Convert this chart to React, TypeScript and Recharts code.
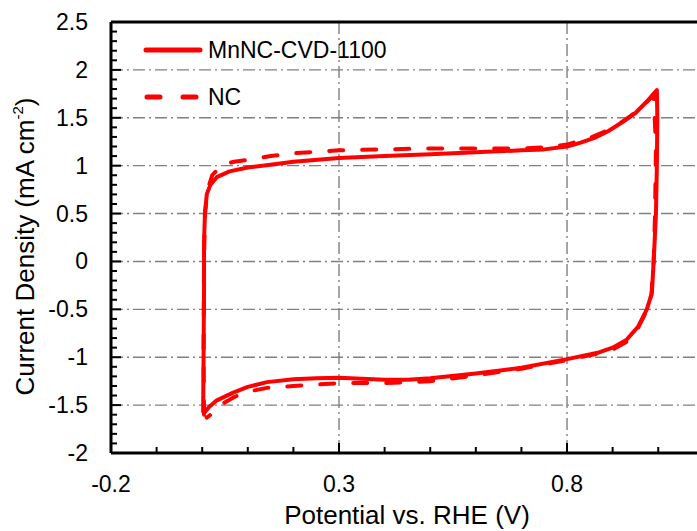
import { LineChart, Line, XAxis, YAxis, CartesianGrid, ReferenceLine, Legend } from 'recharts'

// MnNC-CVD-1100 cyclic voltammogram (solid), anodic then cathodic sweep
const mnncPotential = [
  0.002, 0.003, 0.004, 0.004, 0.006, 0.01, 0.018, 0.032, 0.06, 0.1, 0.15, 0.2, 0.3, 0.4, 0.5, 0.6, 0.7,
  0.75, 0.8, 0.83, 0.86, 0.89, 0.92, 0.95, 0.975, 0.997,
  0.998, 0.997, 0.995, 0.99, 0.986, 0.975, 0.956, 0.93, 0.9, 0.87, 0.8, 0.7, 0.6, 0.5, 0.45, 0.4,
  0.3, 0.25, 0.2, 0.142, 0.1, 0.068, 0.032, 0.015, 0.003,
]
const mnncCurrent = [
  -1.58, -1.0, -0.3, 0.2, 0.5, 0.7, 0.8, 0.88, 0.94, 0.98, 1.01, 1.04, 1.08, 1.1, 1.12, 1.14, 1.16,
  1.17, 1.2, 1.24, 1.29, 1.36, 1.45, 1.55, 1.67, 1.79,
  1.5, 1.0, 0.5, 0.0, -0.33, -0.5, -0.68, -0.82, -0.9, -0.95, -1.02, -1.11, -1.17, -1.22, -1.235, -1.235,
  -1.215, -1.22, -1.23, -1.26, -1.31, -1.37, -1.45, -1.52, -1.59,
]

// NC cyclic voltammogram (dashed)
const ncPotential = [
  0.004, 0.003, 0.004, 0.006, 0.012, 0.022, 0.043, 0.07, 0.1, 0.15, 0.2, 0.3, 0.4, 0.5, 0.6, 0.7,
  0.75, 0.8, 0.85, 0.9, 0.94, 0.97, 0.99,
  0.995, 0.993, 0.99, 0.985, 0.974, 0.955, 0.93, 0.9, 0.87, 0.8, 0.7, 0.6, 0.5, 0.4, 0.3, 0.2,
  0.142, 0.1, 0.068, 0.04, 0.024, 0.01,
]
const ncCurrent = [
  -1.6, -1.0, 0.0, 0.5, 0.75, 0.9, 1.01, 1.04, 1.06, 1.1, 1.13, 1.16, 1.17, 1.18, 1.18, 1.18,
  1.19, 1.22, 1.29, 1.39, 1.52, 1.64, 1.74,
  1.2, 0.5, 0.0, -0.35, -0.52, -0.7, -0.84, -0.92, -0.96, -1.03, -1.12, -1.19, -1.25, -1.27, -1.27, -1.3,
  -1.32, -1.36, -1.42, -1.5, -1.58, -1.63,
]

const seriesNames = ['MnNC-CVD-1100', 'NC']
const xTickLabels = [-0.2, 0.3, 0.8]
const yTickLabels = [-2, -1.5, -1, -0.5, 0, 0.5, 1, 1.5, 2, 2.5]
const xGridValues = [0.3, 0.8]
const yGridValues = [-1.5, -1, -0.5, 0, 0.5, 1, 1.5, 2]

// minor ticks every 0.1
const xTicks = Array.from({ length: 13 }, (_, i) => Math.round((-0.2 + i * 0.1) * 10) / 10)
const yTicks = Array.from({ length: 46 }, (_, i) => Math.round((-2 + i * 0.1) * 10) / 10)

const mnncData = mnncPotential.map((x, i) => ({ x, y: mnncCurrent[i] }))
const ncData = ncPotential.map((x, i) => ({ x, y: ncCurrent[i] }))

const RED = '#ff0000'
const FONT = '"Liberation Sans", Arial, sans-serif'

const isMajor = (list: number[], v: number) => list.some(m => Math.abs(m - v) < 1e-6)

const XTick = (props: any) => {
  const { x, y, payload } = props
  const major = isMajor(xTickLabels, payload.value)
  return (
    <g>
      <line x1={x} x2={x} y1={y} y2={y - (major ? 10 : 6)} stroke="#000" strokeWidth={2} />
      {major && (
        <text x={x} y={y + 39} textAnchor="middle" fontSize={23} fill="#000" fontFamily={FONT}>
          {payload.value}
        </text>
      )}
    </g>
  )
}

const YTick = (props: any) => {
  const { x, y, payload } = props
  const major = isMajor(yTickLabels, payload.value)
  return (
    <g>
      <line x1={x} x2={x + (major ? 10 : 6)} y1={y} y2={y} stroke="#000" strokeWidth={2} />
      {major && (
        <text x={x - 23} y={y + 8} textAnchor="end" fontSize={23} fill="#000" fontFamily={FONT}>
          {payload.value}
        </text>
      )}
    </g>
  )
}

const XTitle = (props: any) => {
  const { viewBox } = props
  return (
    <text x={viewBox.x + viewBox.width / 2 + 3} y={viewBox.y + 71} textAnchor="middle" fontSize={26} fill="#000" fontFamily={FONT}>
      Potential vs. RHE (V)
    </text>
  )
}

const YTitle = (props: any) => {
  const { viewBox } = props
  const cx = viewBox.x + 34
  const cy = viewBox.y + viewBox.height / 2 + 9
  return (
    <text x={cx} y={cy} transform={`rotate(-90 ${cx} ${cy})`} textAnchor="middle" fontSize={26} fill="#000" fontFamily={FONT}>
      Current Density (mA cm
      <tspan fontSize={15} dy={-11}>-2</tspan>
      <tspan dy={11}>)</tspan>
    </text>
  )
}

const CustomLegend = () => (
  <div style={{ position: 'relative', width: 400, height: 120, fontFamily: FONT }}>
    {seriesNames.map((name, i) => (
      <div
        key={name}
        style={{ position: 'absolute', left: 142, top: (i === 0 ? 50 : 97) - 15, height: 30, display: 'flex', alignItems: 'center' }}
      >
        <svg width={62} height={30}>
          {i === 0 ? (
            <line x1={4} x2={58} y1={15} y2={15} stroke={RED} strokeWidth={5} strokeLinecap="round" />
          ) : (
            <line x1={5} x2={56} y1={15} y2={15} stroke={RED} strokeWidth={5} strokeLinecap="round" strokeDasharray="13 23" />
          )}
        </svg>
        <span style={{ marginLeft: 4, fontSize: 23, color: '#000', whiteSpace: 'nowrap' }}>{name}</span>
      </div>
    ))}
  </div>
)

export default function App() {
  return (
    <div style={{ position: 'fixed', left: 0, top: 0, width: 697, height: 531, background: '#fff', overflow: 'hidden', fontFamily: FONT }}>
      <LineChart width={697} height={531} margin={{ top: 22, right: 0, left: 0, bottom: 0 }}>
        <CartesianGrid
          horizontal
          vertical
          horizontalValues={yGridValues}
          verticalValues={xGridValues}
          stroke="#808080"
          strokeWidth={1.4}
          strokeDasharray="12 4 2 4"
        />
        <XAxis
          type="number"
          dataKey="x"
          domain={[-0.2, 1.085]}
          allowDataOverflow
          ticks={xTicks}
          interval={0}
          tickSize={0}
          tickMargin={0}
          tickLine={false}
          tick={<XTick />}
          axisLine={{ stroke: '#000', strokeWidth: 3 }}
          height={78}
          label={<XTitle />}
        />
        <YAxis
          type="number"
          dataKey="y"
          domain={[-2, 2.5]}
          allowDataOverflow
          ticks={yTicks}
          interval={0}
          tickSize={0}
          tickMargin={0}
          tickLine={false}
          tick={<YTick />}
          axisLine={{ stroke: '#000', strokeWidth: 3 }}
          width={111}
          label={<YTitle />}
        />
        <ReferenceLine y={2.5} stroke="#000" strokeWidth={3} />
        <Legend
          content={<CustomLegend />}
          layout="horizontal"
          align="center"
          verticalAlign="middle"
          wrapperStyle={{ left: 0, top: 0, width: 400, height: 120 }}
        />
        <Line
          data={ncData}
          dataKey="y"
          name={seriesNames[1]}
          type="linear"
          stroke={RED}
          strokeWidth={4}
          strokeDasharray="14 19"
          strokeLinecap="round"
          dot={false}
          isAnimationActive={false}
        />
        <Line
          data={mnncData}
          dataKey="y"
          name={seriesNames[0]}
          type="linear"
          stroke={RED}
          strokeWidth={4}
          strokeLinejoin="round"
          dot={false}
          isAnimationActive={false}
        />
      </LineChart>
    </div>
  )
}
